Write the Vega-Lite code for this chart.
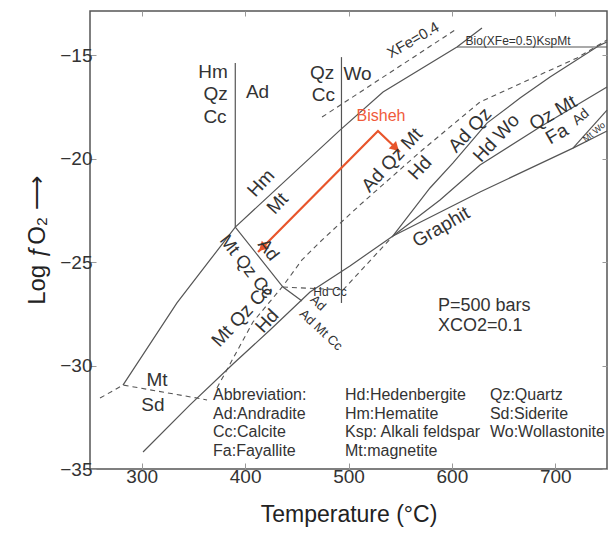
{
"$schema": "https://vega.github.io/schema/vega-lite/v6.json",
"width": 517, "height": 458,
"autosize": {"type": "none"},
"padding": {"left": 90, "top": 11, "right": 1, "bottom": 67},
"background": "white",
"config": {"view": {"stroke": "#555", "strokeWidth": 1.5}, "font": "Liberation Sans", "text": {"font": "Liberation Sans", "color": "#333"}},
"datasets": {
"solid": [
{"line":"left","i":0,"T":281.9,"L":-30.94},{"line":"left","i":1,"T":334.1,"L":-26.97},{"line":"left","i":2,"T":366.1,"L":-24.89},{"line":"left","i":3,"T":390.5,"L":-23.3},{"line":"left","i":4,"T":491.8,"L":-18.61},{"line":"left","i":5,"T":533.4,"L":-16.77},{"line":"left","i":6,"T":604.9,"L":-14.59},{"line":"left","i":7,"T":629.1,"L":-13.67},
{"line":"v1","i":0,"T":390.5,"L":-15.37},{"line":"v1","i":1,"T":390.5,"L":-23.3},
{"line":"v2","i":0,"T":493.2,"L":-15.08},{"line":"v2","i":1,"T":493.2,"L":-26.97},
{"line":"A","i":0,"T":390.5,"L":-23.3},{"line":"A","i":1,"T":436.6,"L":-26.2},{"line":"A","i":2,"T":455.0,"L":-26.88},
{"line":"B","i":0,"T":301.3,"L":-34.18},{"line":"B","i":1,"T":346.7,"L":-31.9},{"line":"B","i":2,"T":388.3,"L":-29.92},{"line":"B","i":3,"T":424.1,"L":-28.28},{"line":"B","i":4,"T":462.8,"L":-26.44},{"line":"B","i":5,"T":501.4,"L":-25.18},{"line":"B","i":6,"T":543.0,"L":-23.73},
{"line":"graphit","i":0,"T":543.0,"L":-23.73},{"line":"graphit","i":1,"T":627.2,"L":-21.6},{"line":"graphit","i":2,"T":717.1,"L":-19.48},{"line":"graphit","i":3,"T":750,"L":-18.65},
{"line":"L1","i":0,"T":543.0,"L":-23.73},{"line":"L1","i":1,"T":578.8,"L":-21.41},{"line":"L1","i":2,"T":601.1,"L":-20.2},{"line":"L1","i":3,"T":633.9,"L":-18.27},{"line":"L1","i":4,"T":665.9,"L":-17.06},{"line":"L1","i":5,"T":694.9,"L":-16.04},{"line":"L1","i":6,"T":743.2,"L":-14.5},{"line":"L1","i":7,"T":750,"L":-14.35},
{"line":"L2","i":0,"T":543.0,"L":-23.73},{"line":"L2","i":1,"T":588.5,"L":-21.99},{"line":"L2","i":2,"T":627.2,"L":-20.3},{"line":"L2","i":3,"T":685.2,"L":-18.46},{"line":"L2","i":4,"T":750,"L":-16.53},
{"line":"wedge","i":0,"T":717.1,"L":-19.48},{"line":"wedge","i":1,"T":750,"L":-17.64},
{"line":"bio","i":0,"T":604.9,"L":-14.59},{"line":"bio","i":1,"T":750,"L":-14.59}
],
"dashed": [
{"line":"mtsd","i":0,"T":259.7,"L":-31.57},{"line":"mtsd","i":1,"T":281.9,"L":-30.94},{"line":"mtsd","i":2,"T":353.5,"L":-31.57},{"line":"mtsd","i":3,"T":363.2,"L":-31.66},
{"line":"hd","i":0,"T":372.8,"L":-31.08},{"line":"hd","i":1,"T":407.6,"L":-27.89},{"line":"hd","i":2,"T":436.6,"L":-26.15},{"line":"hd","i":3,"T":455.0,"L":-24.89},{"line":"hd","i":4,"T":472.4,"L":-24.02},{"line":"hd","i":5,"T":511.1,"L":-22.23},{"line":"hd","i":6,"T":569.1,"L":-19.67},{"line":"hd","i":7,"T":627.2,"L":-17.25},{"line":"hd","i":8,"T":721.0,"L":-15.12},{"line":"hd","i":9,"T":750,"L":-14.25},
{"line":"hdcc","i":0,"T":436.6,"L":-26.2},{"line":"hdcc","i":1,"T":496.6,"L":-26.34},
{"line":"adcc","i":0,"T":494.7,"L":-26.34},{"line":"adcc","i":1,"T":543.0,"L":-23.73},
{"line":"xfe","i":0,"T":474.4,"L":-17.98},{"line":"xfe","i":1,"T":603.0,"L":-13.77}
],
"bisheh": [{"i":0,"T":412.5,"L":-24.51},{"i":1,"T":528.5,"L":-18.65},{"i":2,"T":549.8,"L":-19.67}]
},
"layer": [
{
"encoding": {
 "x": {"field": "T", "type": "quantitative", "scale": {"domain": [250, 750], "nice": false, "zero": false},
  "axis": {"values": [300,400,500,600,700], "title": "Temperature (°C)", "titleFontSize": 23, "titleFontWeight": "normal", "titleColor": "#222", "titlePadding": 17, "labelFontSize": 19, "labelColor": "#333", "labelPadding": 4, "tickSize": -6, "tickColor": "#999", "domain": false, "grid": false}},
 "y": {"field": "L", "type": "quantitative", "scale": {"domain": [-35, -12.85], "nice": false, "zero": false},
  "axis": {"values": [-35,-30,-25,-20,-15], "title": "Log ƒO₂ ⟶", "titleFontSize": 24, "titleFontWeight": "normal", "titleColor": "#222", "titlePadding": 10, "labelFontSize": 19, "labelColor": "#333", "labelPadding": 4, "tickSize": -6, "tickColor": "#999", "domain": false, "grid": false}}
},
"layer": [
 {"data": {"name": "solid"}, "mark": {"type": "line", "color": "#555", "strokeWidth": 1.2}, "encoding": {"detail": {"field": "line"}, "order": {"field": "i"}}},
 {"data": {"name": "dashed"}, "mark": {"type": "line", "color": "#555", "strokeWidth": 1.1, "strokeDash": [5, 4]}, "encoding": {"detail": {"field": "line"}, "order": {"field": "i"}}},
 {"data": {"name": "bisheh"}, "mark": {"type": "line", "color": "#e8552b", "strokeWidth": 2.2}, "encoding": {"order": {"field": "i"}}},
 {"data": {"values": [{"T": 416.6, "L": -24.3}]}, "mark": {"type": "point", "shape": "triangle-up", "filled": true, "color": "#e8552b", "opacity": 1, "size": 110, "angle": 225}},
 {"data": {"values": [{"T": 545.6, "L": -19.47}]}, "mark": {"type": "point", "shape": "triangle-up", "filled": true, "color": "#e8552b", "opacity": 1, "size": 110, "angle": 134}},
 {"data": {"values": [
  {"label":"Hm","T":369.0,"L":-15.79},{"label":"Qz","T":371.4,"L":-16.87},{"label":"Cc","T":370.9,"L":-17.98},{"label":"Ad","T":412.0,"L":-16.79},
  {"label":"Qz","T":474.4,"L":-15.83},{"label":"Cc","T":475.8,"L":-16.89},{"label":"Wo","T":508.7,"L":-15.9},
  {"label":"Mt","T":314.8,"L":-30.7},{"label":"Sd","T":310.9,"L":-31.9}]},
  "mark": {"type": "text", "fontSize": 19, "align": "center", "baseline": "middle"}, "encoding": {"text": {"field": "label"}}},
 {"data": {"values": [
  {"label":"Hm","T":415.4,"L":-21.17},{"label":"Mt","T":431.3,"L":-22.16},{"label":"Ad Qz Mt","T":542.1,"L":-20.06},{"label":"Hd","T":569.1,"L":-20.44},
  {"label":"Ad Qz","T":617.5,"L":-18.61},{"label":"Hd Wo","T":643.0,"L":-19.0},{"label":"Mt Qz Cc","T":397.0,"L":-27.55},{"label":"Hd","T":421.2,"L":-27.84}]},
  "mark": {"type": "text", "fontSize": 19, "angle": -47, "align": "center", "baseline": "middle"}, "encoding": {"text": {"field": "label"}}},
 {"data": {"values": [{"label":"Qz Mt","T":697.8,"L":-17.78},{"label":"Fa","T":701.6,"L":-18.8},{"label":"Graphit","T":589.5,"L":-23.3}]},
  "mark": {"type": "text", "fontSize": 19, "angle": -30, "align": "center", "baseline": "middle"}, "encoding": {"text": {"field": "label"}}},
 {"data": {"values": [{"label":"Ad","T":422.1,"L":-24.41},{"label":"Mt Qz Cc","T":400.9,"L":-25.23}]},
  "mark": {"type": "text", "fontSize": 18, "angle": 52, "align": "center", "baseline": "middle"}, "encoding": {"text": {"field": "label"}}},
 {"data": {"values": [{"label":"Ad","T":470.5,"L":-26.97},{"label":"Ad Mt Cc","T":473.4,"L":-28.28}]},
  "mark": {"type": "text", "fontSize": 13, "angle": 43, "align": "center", "baseline": "middle"}, "encoding": {"text": {"field": "label"}}},
 {"data": {"values": [{"label":"Hd Cc","T":482.1,"L":-26.44}]},
  "mark": {"type": "text", "fontSize": 12, "align": "center", "baseline": "middle"}, "encoding": {"text": {"field": "label"}}},
 {"data": {"values": [{"label":"Ad","T":724.8,"L":-17.98}]},
  "mark": {"type": "text", "fontSize": 14, "angle": -40, "align": "center", "baseline": "middle"}, "encoding": {"text": {"field": "label"}}},
 {"data": {"values": [{"label":"Mt Wo","T":737.5,"L":-18.7}]},
  "mark": {"type": "text", "fontSize": 9, "angle": -40, "align": "center", "baseline": "middle"}, "encoding": {"text": {"field": "label"}}},
 {"data": {"values": [{"label":"XFe=0.4","T":562.4,"L":-14.25}]},
  "mark": {"type": "text", "fontSize": 15, "angle": -30, "align": "center", "baseline": "middle"}, "encoding": {"text": {"field": "label"}}},
 {"data": {"values": [{"label":"Bio(XFe=0.5)KspMt","T":663.9,"L":-14.3}]},
  "mark": {"type": "text", "fontSize": 12, "align": "center", "baseline": "middle"}, "encoding": {"text": {"field": "label"}}},
 {"data": {"values": [{"label":"Bisheh","T":531.4,"L":-17.95}]},
  "mark": {"type": "text", "fontSize": 16, "color": "#f05a3a", "align": "center", "baseline": "middle"}, "encoding": {"text": {"field": "label"}}},
 {"data": {"values": [{"label":"P=500 bars","T":586.6,"L":-27.12},{"label":"XCO2=0.1","T":586.6,"L":-28.08}]},
  "mark": {"type": "text", "fontSize": 18, "align": "left", "baseline": "middle"}, "encoding": {"text": {"field": "label"}}},
 {"data": {"values": [
  {"label":"Abbreviation:","T":369.0,"L":-31.42},{"label":"Ad:Andradite","T":369.0,"L":-32.32},{"label":"Cc:Calcite","T":369.0,"L":-33.21},{"label":"Fa:Fayallite","T":369.0,"L":-34.11},
  {"label":"Hd:Hedenbergite","T":496.6,"L":-31.42},{"label":"Hm:Hematite","T":496.6,"L":-32.32},{"label":"Ksp: Alkali feldspar","T":496.6,"L":-33.21},{"label":"Mt:magnetite","T":496.6,"L":-34.11},
  {"label":"Qz:Quartz","T":636.8,"L":-31.42},{"label":"Sd:Siderite","T":636.8,"L":-32.32},{"label":"Wo:Wollastonite","T":636.8,"L":-33.21}]},
  "mark": {"type": "text", "fontSize": 16, "align": "left", "baseline": "middle"}, "encoding": {"text": {"field": "label"}}}
]
},
{
 "data": {"name": "bisheh"},
 "mark": {"type": "point", "opacity": 0},
 "encoding": {
  "x": {"field": "T", "type": "quantitative", "scale": {"domain": [250, 750], "nice": false, "zero": false}, "axis": {"orient": "top", "values": [300,400,500,600,700], "labels": false, "title": null, "tickSize": -5, "tickColor": "#999", "domain": false, "grid": false}},
  "y": {"field": "L", "type": "quantitative", "scale": {"domain": [-35, -12.85], "nice": false, "zero": false}, "axis": {"orient": "right", "values": [-35,-30,-25,-20,-15], "labels": false, "title": null, "tickSize": -5, "tickColor": "#999", "domain": false, "grid": false}}
 }
}
],
"resolve": {"axis": {"x": "independent", "y": "independent"}}
}
